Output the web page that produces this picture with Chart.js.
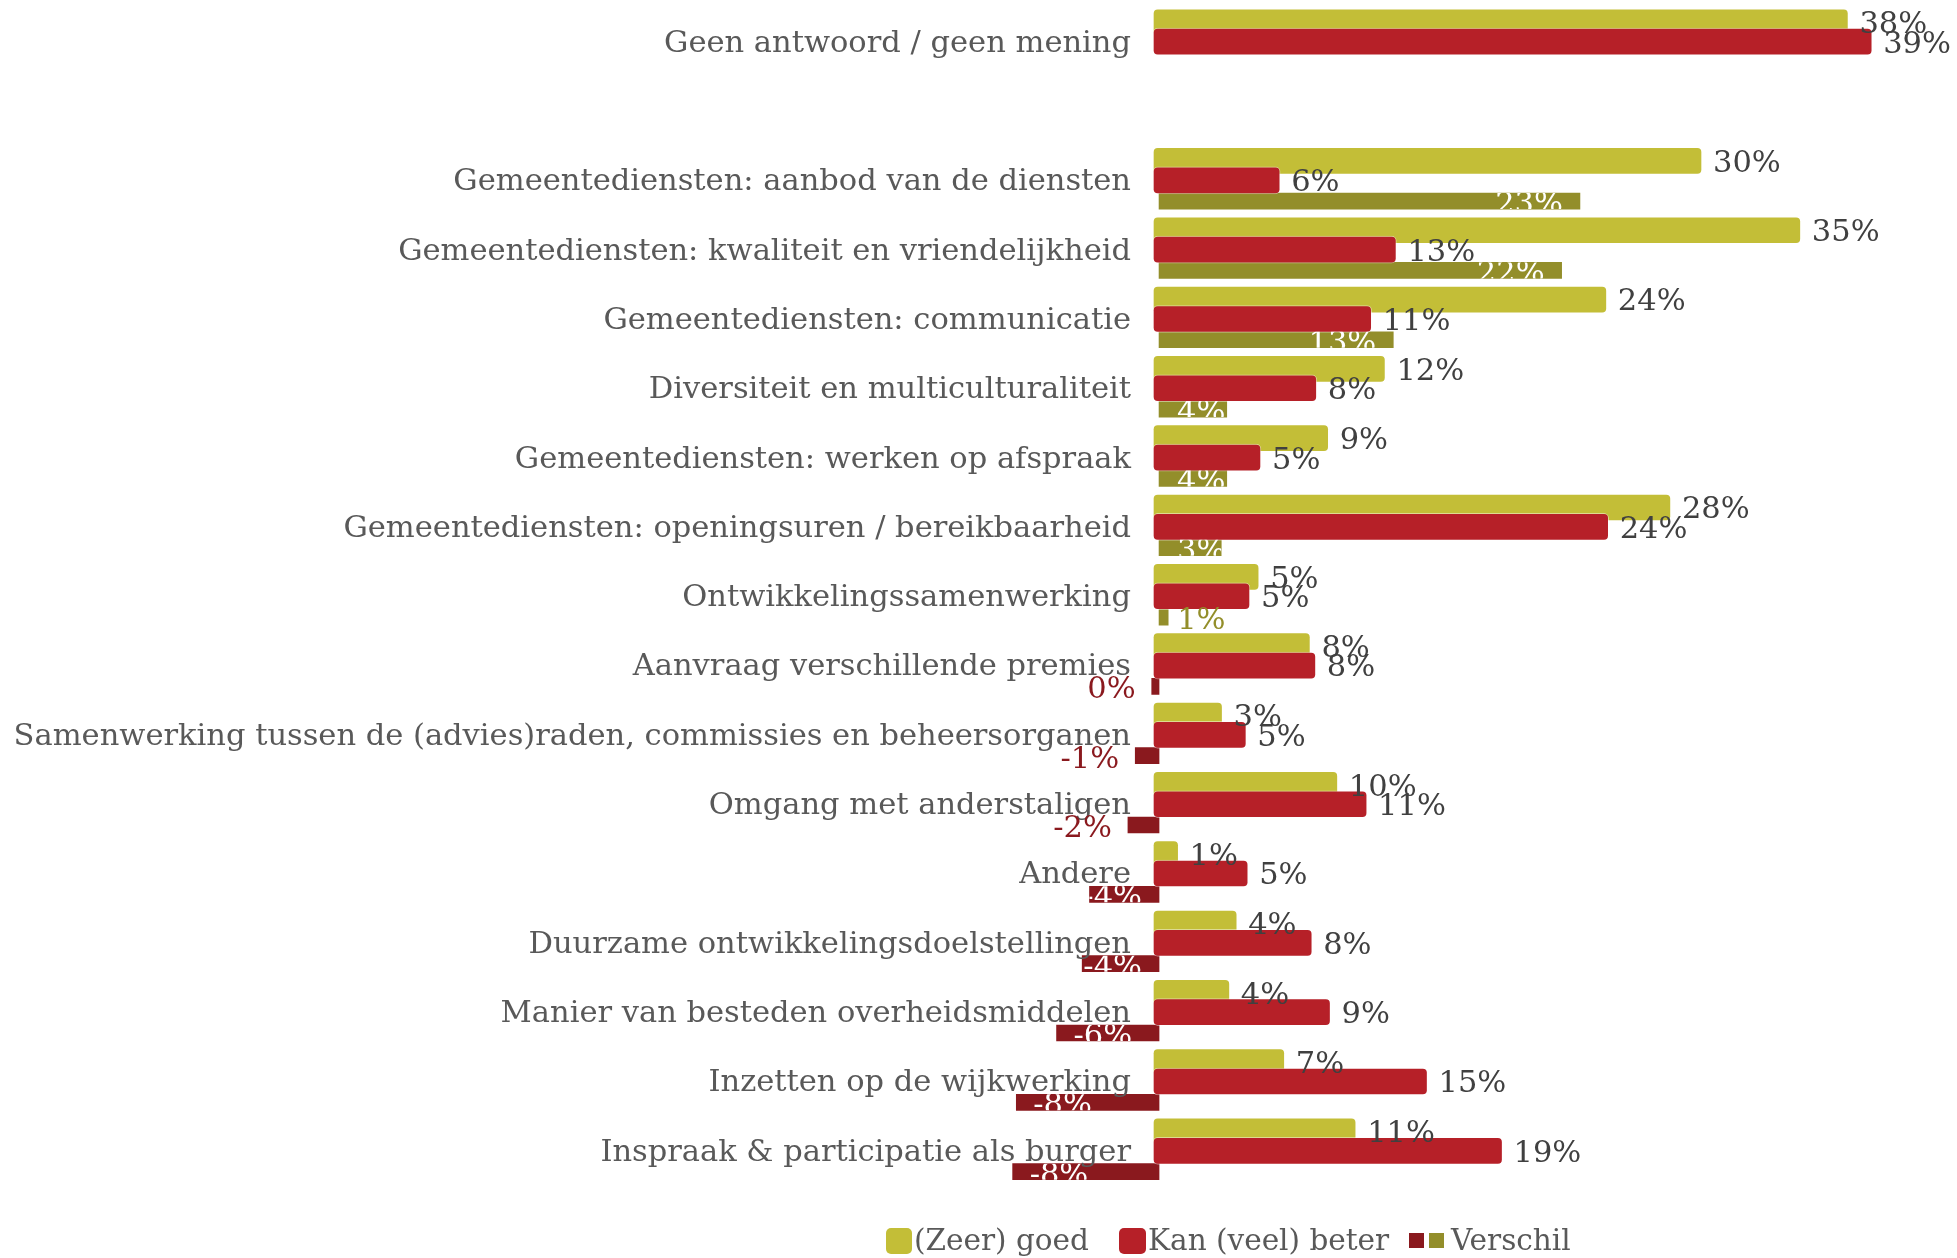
<!DOCTYPE html>
<html>
<head>
<meta charset="utf-8">
<script src="https://cdn.jsdelivr.net/npm/chart.js@4.4.1/dist/chart.umd.min.js"></script>
<style>
html,body{margin:0;padding:0;background:#ffffff;}
#wrap{width:1957px;height:1258px;position:relative;}
</style>
</head>
<body>
<div id="wrap"><canvas id="c" width="1957" height="1258"></canvas></div>
<script>
// ---- data ----
const categories = [
  'Geen antwoord / geen mening',
  '',
  'Gemeentediensten: aanbod van de diensten',
  'Gemeentediensten: kwaliteit en vriendelijkheid',
  'Gemeentediensten: communicatie',
  'Diversiteit en multiculturaliteit',
  'Gemeentediensten: werken op afspraak',
  'Gemeentediensten: openingsuren / bereikbaarheid',
  'Ontwikkelingssamenwerking',
  'Aanvraag verschillende premies',
  'Samenwerking tussen de (advies)raden, commissies en beheersorganen',
  'Omgang met anderstaligen',
  'Andere',
  'Duurzame ontwikkelingsdoelstellingen',
  'Manier van besteden overheidsmiddelen',
  'Inzetten op de wijkwerking',
  'Inspraak & participatie als burger'
];
const goed     = [38.0, null, 30.0, 35.4, 24.8, 12.7, 9.6, 28.3, 5.8, 8.6, 3.8, 10.1, 1.4, 4.6, 4.2, 7.2, 11.1];
const beter    = [39.3, null, 6.95, 13.3, 11.95, 8.95, 5.9, 24.9, 5.3, 8.9, 5.1, 11.7, 5.2, 8.7, 9.7, 15.0, 19.1];
const verschil = [null, null, 23.0, 22.0, 12.8, 3.7, 3.7, 3.4, 0.5, -0.4, -1.3, -1.7, -3.8, -4.2, -5.6, -7.8, -8.0];
const seriesNames = ['(Zeer) goed', 'Kan (veel) beter', 'Verschil'];

// ---- styles ----
const YEL = '#c3be37', RED = '#b62028', OLIVE = '#938e2a', DKRED = '#8a191e';
const VAL_COLOR = '#404040', CAT_COLOR = '#595959';
const FONT = '30.5px "DejaVu Serif"';
const LEGEND_FONT = '29.5px "DejaVu Serif"';

function pts(arr) {
  const out = [];
  arr.forEach((v, i) => { if (v !== null) out.push({x: v, y: i}); });
  return out;
}

const labelPlugin = {
  id: 'valueLabels',
  afterDatasetsDraw(chart) {
    const ctx = chart.ctx;
    const xs = chart.scales.x, yr = chart.scales.yR;
    ctx.save();
    ctx.font = FONT;
    ctx.textBaseline = 'middle';
    // category labels, right-aligned at the zero line
    ctx.fillStyle = CAT_COLOR;
    ctx.textAlign = 'right';
    const x0 = xs.getPixelForValue(0);
    categories.forEach((c, i) => { if (c) ctx.fillText(c, x0 - 22, yr.getPixelForValue(i) + 2); });
    ctx.textAlign = 'left';
    // value labels for (Zeer) goed and Kan (veel) beter
    [0, 1].forEach(di => {
      const meta = chart.getDatasetMeta(di);
      const ds = chart.data.datasets[di].data;
      meta.data.forEach((el, j) => {
        ctx.fillStyle = VAL_COLOR;
        ctx.fillText(Math.floor(ds[j].x + 1e-9) + '%', el.x + 11, el.y + 3);
      });
    });
    // Verschil labels
    const meta = chart.getDatasetMeta(2);
    const ds = chart.data.datasets[2].data;
    meta.data.forEach((el, j) => {
      const v = ds[j].x;
      let r = Math.round(v); if (r === 0) r = 0;
      const txt = r + '%';
      const w = ctx.measureText(txt).width;
      const base = el.base, end = el.x, len = Math.abs(end - base);
      const y = el.y + 4;
      if (len > w) {
        const left = v >= 0 ? Math.max(base + 18, end - 17 - w) : Math.min(end + 17, base - 17 - w);
        ctx.save();
        ctx.beginPath();
        ctx.rect(Math.min(base, end), el.y - el.height / 2, len, el.height);
        ctx.clip();
        ctx.fillStyle = '#ffffff';
        ctx.fillText(txt, left, y);
        ctx.restore();
      } else {
        ctx.fillStyle = v >= 0 ? OLIVE : DKRED;
        const left = v >= 0 ? end + 9 : end - 16 - w;
        ctx.fillText(txt, left, y);
      }
    });
    ctx.restore();
  },
  afterDraw(chart) {
    // legend
    const ctx = chart.ctx;
    ctx.save();
    ctx.font = LEGEND_FONT;
    ctx.textBaseline = 'middle';
    ctx.textAlign = 'left';
    const cy = 1241;
    const starts = [886, 1119, 1409];
    function rbox(x, y, w, h, r, col) {
      ctx.fillStyle = col;
      ctx.beginPath();
      ctx.roundRect(x, y, w, h, r);
      ctx.fill();
    }
    rbox(starts[0], cy - 13, 26, 26, 5, YEL);
    ctx.fillStyle = CAT_COLOR;
    ctx.fillText(seriesNames[0], starts[0] + 28, cy + 1);
    rbox(starts[1], cy - 13, 27, 26, 5, RED);
    ctx.fillStyle = CAT_COLOR;
    ctx.fillText(seriesNames[1], starts[1] + 29, cy + 1);
    ctx.fillStyle = DKRED; ctx.fillRect(starts[2], cy - 8, 15, 15);
    ctx.fillStyle = OLIVE; ctx.fillRect(starts[2] + 20, cy - 8, 15, 15);
    ctx.fillStyle = CAT_COLOR;
    ctx.fillText(seriesNames[2], starts[2] + 42, cy + 1);
    ctx.restore();
  }
};

const xMin = -10, xMax = 40, vShift = 0.33;
const nCat = categories.length;

new Chart(document.getElementById('c').getContext('2d'), {
  type: 'bar',
  data: {
    datasets: [
      {
        label: seriesNames[0], data: pts(goed), xAxisID: 'x', yAxisID: 'yY',
        backgroundColor: YEL, borderColor: 'rgba(255,255,255,0.45)', borderWidth: 1,
        borderRadius: 5, borderSkipped: false, barThickness: 27, grouped: false, order: 1
      },
      {
        label: seriesNames[1], data: pts(beter), xAxisID: 'x', yAxisID: 'yR',
        backgroundColor: RED, borderColor: 'rgba(255,255,255,0.45)', borderWidth: 1,
        borderRadius: 5, borderSkipped: false, barThickness: 27, grouped: false, order: 0
      },
      {
        label: seriesNames[2], data: pts(verschil), xAxisID: 'x2', yAxisID: 'yV',
        backgroundColor: pts(verschil).map(p => p.x < 0 ? DKRED : OLIVE),
        borderWidth: 0, borderRadius: 0, barThickness: 16, grouped: false, order: 0
      }
    ]
  },
  options: {
    indexAxis: 'y',
    responsive: false,
    animation: false,
    devicePixelRatio: 1,
    layout: { padding: { left: 970, right: 72, top: 7, bottom: 72.5 } },
    scales: {
      x:  { type: 'linear', min: xMin, max: xMax, display: false, offset: false },
      x2: { type: 'linear', min: xMin - vShift, max: xMax - vShift, display: false, offset: false },
      yR: { type: 'linear', reverse: true, min: -0.5, max: nCat - 0.5, display: false, offset: false },
      yY: { type: 'linear', reverse: true, min: -0.5 + 0.28, max: nCat - 0.5 + 0.28, display: false, offset: false },
      yV: { type: 'linear', reverse: true, min: -0.5 - 0.30, max: nCat - 0.5 - 0.30, display: false, offset: false }
    },
    plugins: { legend: { display: false }, tooltip: { enabled: false } }
  },
  plugins: [labelPlugin]
});
</script>
</body>
</html>
